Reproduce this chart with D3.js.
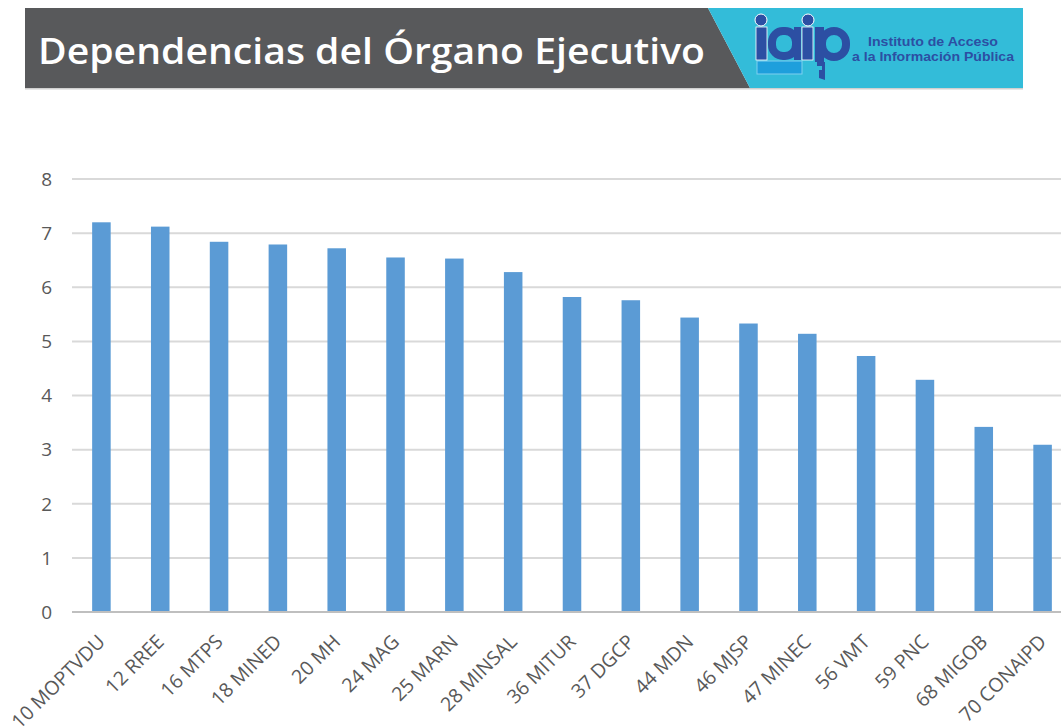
<!DOCTYPE html>
<html><head><meta charset="utf-8">
<script src="https://cdn.jsdelivr.net/npm/d3@7"></script>
<style>
html,body{margin:0;padding:0;background:#fff;}
svg{display:block;}
</style></head>
<body>
<svg id="c" width="1061" height="728"></svg>
<script>
const categories = ["10 MOPTVDU","12 RREE","16 MTPS","18 MINED","20 MH","24 MAG","25 MARN","28 MINSAL","36 MITUR","37 DGCP","44 MDN","46 MJSP","47 MINEC","56 VMT","59 PNC","68 MIGOB","70 CONAIPD"];
const values = [7.2,7.12,6.84,6.79,6.72,6.55,6.53,6.28,5.82,5.76,5.44,5.33,5.14,4.73,4.29,3.42,3.09];
const yTicks = [0,1,2,3,4,5,6,7,8];
const title = "Dependencias del Órgano Ejecutivo";
const logoLines = ["Instituto de Acceso","a la Información Pública"];

const svg = d3.select("#c");

// Header banner
svg.append("rect").attr("x",25).attr("y",88).attr("width",998).attr("height",1.5).attr("fill","#d0d0d0");
svg.append("polygon").attr("points","25,8 708,8 750,88 25,88").attr("fill","#58595b");
svg.append("polygon").attr("points","708,8 1023,8 1023,88 750,88").attr("fill","#33bcd9");
svg.append("text").attr("x",38).attr("y",64)
  .attr("font-family","'Open Sans',sans-serif").attr("font-weight","600")
  .attr("font-size",36).attr("fill","#ffffff")
  .attr("textLength",667).attr("lengthAdjust","spacingAndGlyphs")
  .text(title);

// Logo
const blue = "#2c4fa3";
const lg = svg.append("g");
lg.append("rect").attr("x",757).attr("y",61).attr("width",45).attr("height",13).attr("fill","#1e9fdc").attr("stroke","#7fd0f0").attr("stroke-width",1);
lg.append("circle").attr("cx",761).attr("cy",20).attr("r",6).attr("fill",blue).attr("stroke","#fff").attr("stroke-width",1);
lg.append("circle").attr("cx",808).attr("cy",20).attr("r",6).attr("fill",blue).attr("stroke","#fff").attr("stroke-width",1);
lg.append("rect").attr("x",756).attr("y",27).attr("width",11).attr("height",33).attr("fill",blue).attr("stroke","#fff").attr("stroke-width",0.8);
lg.append("rect").attr("x",772).attr("y",31).attr("width",24).attr("height",25).attr("rx",11).attr("fill","none").attr("stroke",blue).attr("stroke-width",8);
lg.append("rect").attr("x",794).attr("y",27).attr("width",7).attr("height",33).attr("fill",blue);
lg.append("rect").attr("x",802).attr("y",27).attr("width",11).attr("height",33).attr("fill",blue).attr("stroke","#fff").attr("stroke-width",0.8);
lg.append("rect").attr("x",822).attr("y",31).attr("width",24).attr("height",26).attr("rx",12).attr("fill","none").attr("stroke",blue).attr("stroke-width",8);
lg.append("rect").attr("x",815).attr("y",27).attr("width",9).attr("height",35).attr("fill",blue);
lg.append("path").attr("d","M817,62 L825,62 L825,80 L819,78 L819,70 L822,70 L822,66 L817,66 Z").attr("fill",blue);
lg.append("text").attr("x",868).attr("y",46).attr("font-family","'Liberation Sans',Arial,sans-serif").attr("font-weight","bold")
  .attr("font-size",13.5).attr("fill",blue).attr("textLength",130).attr("lengthAdjust","spacingAndGlyphs").text(logoLines[0]);
lg.append("text").attr("x",852).attr("y",60.5).attr("font-family","'Liberation Sans',Arial,sans-serif").attr("font-weight","bold")
  .attr("font-size",13.5).attr("fill",blue).attr("textLength",162).attr("lengthAdjust","spacingAndGlyphs").text(logoLines[1]);

// Chart
const x = d3.scaleBand().domain(categories).range([72,1072]).paddingInner(0.685).paddingOuter(0.3425);
const y = d3.scaleLinear().domain([0,8]).range([612,179]);

const grid = svg.append("g");
grid.selectAll("line").data(yTicks.filter(d=>d>0)).join("line")
  .attr("x1",72).attr("x2",1061).attr("y1",d=>y(d)).attr("y2",d=>y(d))
  .attr("stroke","#d9d9d9").attr("stroke-width",2);

svg.append("g").selectAll("rect").data(values).join("rect")
  .attr("x",(d,i)=>x(categories[i])).attr("width",x.bandwidth())
  .attr("y",d=>y(d)).attr("height",d=>y(0)-y(d))
  .attr("fill","#5b9bd5");

svg.append("line").attr("x1",72).attr("x2",1061).attr("y1",y(0)).attr("y2",y(0))
  .attr("stroke","#bfbfbf").attr("stroke-width",2);

svg.append("g").selectAll("text").data(yTicks).join("text")
  .attr("x",52).attr("y",d=>y(d)).attr("dy","0.36em").attr("text-anchor","end")
  .attr("font-family","'Open Sans',sans-serif").attr("font-size",19).attr("fill","#595959")
  .text(d=>d);

svg.append("g").selectAll("text").data(categories).join("text")
  .attr("transform",d=>`translate(${x(d)+x.bandwidth()/2+5},643) rotate(-45)`)
  .attr("text-anchor","end")
  .attr("font-family","'Open Sans',sans-serif").attr("font-size",19.5).attr("fill","#595959")
  .text(d=>d);
</script>
</body></html>
